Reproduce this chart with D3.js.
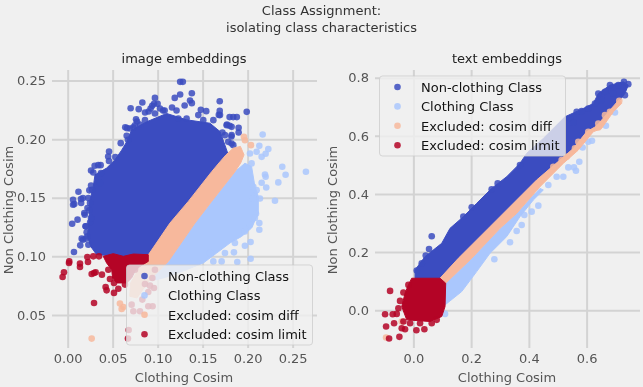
<!DOCTYPE html>
<html>
<head>
<meta charset="utf-8">
<script src="https://cdn.jsdelivr.net/npm/d3@7"></script>
<style>
  html, body { margin: 0; padding: 0; background: #f0f0f0; }
  svg { display: block; font-family: "DejaVu Sans", sans-serif; filter: blur(0.35px); }
</style>
</head>
<body>
<svg id="chart" width="643" height="387"></svg>
<script>
const seriesNames = ["Non-clothing Class", "Clothing Class", "Excluded: cosim diff", "Excluded: cosim limit"];
const seriesColors = ["#3b4cc0", "#aac7fd", "#f7b89c", "#b40426"];

// image embeddings: the solid part of each cloud is an outline, the loose points are single
const imgXTicks = [0, 0.05, 0.10, 0.15, 0.20, 0.25];
const imgYTicks = [0.05, 0.10, 0.15, 0.20, 0.25];
const imgBlueArea = [[.0322,.1014],[.0256,.1085],[.0219,.1170],[.0241,.1341],[.0241,.1455],[.0285,.1597],[.0304,.1696],[.0433,.1753],[.0526,.1824],[.0600,.1906],[.0656,.1977],[.0711,.2077],[.0878,.2148],[.1100,.2219],[.1322,.2165],[.1581,.2136],[.1693,.2065],[.1748,.1949],[.1785,.1866],[.0878,.0986]];
const imgBluePoints = [[.070,.2264],[.079,.2256],[.083,.2313],[.086,.2227],[.090,.2236],[.094,.2284],[.097,.2352],[.096,.2301],[.106,.2244],[.100,.2301],[.125,.2489],[.128,.2489],[.125,.2381],[.119,.2352],[.138,.2392],[.136,.2330],[.138,.2307],[.121,.2244],[.116,.2270],[.130,.2287],[.148,.2250],[.154,.2239],[.169,.2324],[.169,.2241],[.168,.2207],[.199,.2233],[.180,.2188],[.184,.2188],[.188,.2188],[.177,.2125],[.180,.2114],[.190,.2097],[.190,.2057],[.182,.2023],[.172,.2057],[.064,.2102],[.059,.1966],[.067,.1994],[.046,.1895],[.053,.1847],[.045,.1852],[.026,.1733],[.030,.1773],[.034,.1778],[.037,.1710],[.026,.1605],[.027,.1568],[.012,.1551],[.006,.1483],[.006,.1440],[.015,.1455],[.017,.1497],[.005,.1278],[.011,.1313],[.022,.1412],[.019,.1355],[.020,.1256],[.022,.1170],[.014,.1094],[.007,.1037],[.017,.1142],[.025,.1290],[.023,.1497],[.036,.1625],[.076,.2170],[.066,.2094],[.073,.2102],[.077,.2151],
  [.1230,.2176],[.1322,.2176],[.1452,.2205],[.1507,.2162],[.1619,.2162],[.1693,.2205],[.1767,.2119],[.1822,.2105],[.1748,.2034],[.1822,.2034],[.1822,.1963],[.1785,.1977],[.1841,.1949],[.0922,.2261],[.1026,.2261],[.1078,.2244],[.0970,.2219],[.0859,.2162],[.0693,.2091],[.0748,.2119],[.0804,.2125],[.0656,.2028],[.0459,.1813],[.0367,.1778],[.0285,.1716],[.0241,.1563],[.0148,.1489],[.0074,.1446],[.0248,.1455],[.0185,.1369],[.0241,.1392],[.0259,.1327],[.0200,.1256],[.0211,.1205],[.0156,.1151],[.0200,.1151],[.0230,.1099]];
const imgLightArea = [[.1119,.0957],[.1415,.1284],[.1600,.1469],[.1859,.1722],[.1970,.1795],[.2044,.1767],[.2081,.1597],[.2119,.1511],[.2119,.1369],[.2044,.1241],[.1933,.1170],[.1804,.1114],[.1656,.1028],[.1507,.0943],[.1322,.0886],[.110,.0824],[.099,.0801],[.0915,.0801]];
const imgLightPoints = [[.2167,.2040],[.2130,.1943],[.2230,.1915],[.2200,.1875],[.2100,.1892],[.2026,.1878],[.2156,.1849],[.2044,.1793],[.2385,.1764],[.2422,.1696],[.2193,.1699],[.2200,.1679],[.2341,.1631],[.2648,.1722],[.2207,.1588],[.2156,.1628],[.2100,.1565],[.2063,.1594],[.2137,.1494],[.2063,.1494],[.2304,.1474],[.2093,.1364],[.2081,.1327],[.2130,.1284],[.2130,.1227],[.2026,.1270],[.1970,.1213],[.2033,.1122],[.1970,.1091],[.1848,.1034],[.1885,.0952],[.2033,.0980],[.1859,.1114],[.1748,.1028],[.1711,.0957],[.1619,.0957],[.1581,.1028]];
const imgOrangeArea = [[.176,.1866],[.184,.1923],[.192,.1938],[.196,.1866],[.1922,.1795],[.1859,.1722],[.1600,.1469],[.1415,.1284],[.1119,.0957],[.0915,.0801],[.077,.0645],[.069,.0659],[.070,.0773],[.080,.0915],[.088,.0994],[.1137,.1284],[.1341,.1469],[.1600,.1722],[.1693,.1807]];
const imgOrangePoints = [[.1959,.2020],[.1970,.1991],[.2037,.1949],[.0581,.0597],[.0619,.0568],[.0600,.0551],[.0856,.0503],[.0267,.0298]];
const imgRedArea = [[.0396,.1000],[.0507,.1023],[.0619,.1000],[.0730,.1020],[.0896,.1014],[.0896,.0957],[.0804,.0915],[.0748,.0872],[.0711,.0815],[.0656,.0773],[.0544,.0773],[.0500,.0815],[.0489,.0886],[.0433,.0943]];
const imgRedPoints = [[.0015,.0943],[.0018,.0957],[-.0041,.0864],[-.0056,.0824],[.0137,.0938],[.0137,.0909],[.0219,.0994],[.0226,.0952],[.0285,.1000],[.0348,.1000],[.0267,.0849],[.0311,.0864],[.0293,.0858],[.0381,.0844],[.0452,.0886],[.0470,.0807],[.0515,.0773],[.0422,.0739],[.0433,.0710],[.0515,.0688],[.0293,.0602],[.0563,.0724],[.0637,.0759],[.0748,.0886],[.0970,.0886],[.0941,.0815],[.0859,.0764],[.0915,.0750],[.0959,.0730],[.0896,.0696],[.0830,.0631],[.0711,.0588],[.0730,.0531],[.0804,.0531],[.0896,.0574],[.0944,.0574],[.0678,.0372],[.0670,.0298]];

// text embeddings
const txtXTicks = [0, 0.2, 0.4, 0.6];
const txtYTicks = [0, 0.2, 0.4, 0.6, 0.8];
const txtBlueArea = [[.0058,.1100],[.0058,.1386],[.0404,.1844],[.0981,.2302],[.1269,.2818],[.1731,.3219],[.2193,.3677],[.2712,.4192],[.3231,.4593],[.3693,.5052],[.3924,.5395],[.4501,.5911],[.5251,.6655],[.5886,.6942],[.6232,.7113],[.6405,.7457],[.6809,.7743],[.7271,.7858],[.7444,.7743],[.7328,.7457],[.7132,.7205],[.6809,.6884],[.6347,.6312],[.6001,.6140],[.5540,.5567],[.5078,.5166],[.4270,.4479],[.3578,.3792],[.2654,.2875],[.1558,.1787],[.0923,.1100]];
const txtBluePoints = [[.0635,.2543],[.0542,.2108],[.0427,.1879],[.0289,.1615],[.0115,.1363],[.3693,.4994],[.2920,.4364],[.2712,.4158],[.2020,.3540],[.1731,.3219],[.6809,.7743],[.6405,.7457],[.7097,.7743],[.7294,.7858],[.7444,.7778],[.7328,.7400],[.5828,.6850],[.5424,.6598],[.5540,.6449],[.6636,.7514],[.6924,.7457],[.6520,.7228],[.6290,.7113],[.6059,.6942],[.5655,.6827]];
const txtLightArea = [[.1119,.0928],[.2020,.1787],[.3001,.2818],[.3578,.3333],[.4385,.4192],[.4501,.4135],[.4155,.3792],[.3693,.3219],[.3231,.2532],[.2654,.1959],[.2193,.1329],[.1673,.0641],[.1096,.0183],[.0981,.0126]];
const txtLightPoints = [[.3347,.2337],[.2804,.1753],[.3578,.2726],[.3751,.2932],[.3843,.3276],[.4097,.3391],[.4328,.3597],[.4674,.4307],[.5193,.4593],[.4963,.4593],[.5366,.4914],[.5632,.4800],[.5563,.4914],[.5747,.5109],[.5863,.5601],[.6186,.5830],[.6059,.5796],[.6670,.6346],[.6982,.6804],[.1096,-.0126]];
const txtOrangeArea = [[.0923,.1100],[.1558,.1787],[.2654,.2875],[.3578,.3792],[.4270,.4479],[.5078,.5166],[.5540,.5567],[.6001,.6140],[.6347,.6335],[.6809,.6884],[.7132,.7251],[.7213,.7113],[.6924,.6827],[.6520,.6254],[.6232,.6140],[.5713,.5510],[.5193,.5052],[.4385,.4250],[.3578,.3333],[.3001,.2818],[.2020,.1787],[.1119,.0928]];
const txtOrangePoints = [[-.0946,-.0939],[-.0404,-.0389],[.7132,.7205],[.6809,.6827],[.6636,.6712],[.6405,.6426],[.6405,.6289],[.6059,.6140],[.5713,.5796],[.5597,.5567],[.5309,.5281],[.5136,.5166],[.4847,.4937]];
const txtRedArea = [[-.0058,.1100],[.0923,.1100],[.1119,.0928],[.1096,.0126],[.0981,-.0218],[.0577,-.0389],[-.0231,-.0332],[-.0404,.0126],[-.0289,.0584],[-.0173,.0871]];
const txtRedPoints = [[-.0808,.0664],[-.0346,.0607],[-.0462,.0321],[-.0173,.0871],[-.0519,.0069],[-.0981,-.0137],[-.0716,-.0137],[-.0577,-.0126],[-.0669,-.0447],[-.0946,-.0561],[-.0404,-.0619],[-.0289,-.0653],[-.0842,-.0974],[-.0485,-.0916],[.0104,-.0687],[.0381,-.0653],[.0231,-.0447],[.0635,-.0447],[.0808,-.0332],[-.0115,-.0447],[-.0346,-.0389]];

const svg = d3.select("#chart");
const textColor = "#555555";
const fontSize = 13;

svg.append("text").attr("x", 321.5).attr("y", 15).attr("text-anchor", "middle")
  .attr("font-size", fontSize).attr("fill", "#333").text("Class Assignment:");
svg.append("text").attr("x", 321.5).attr("y", 32).attr("text-anchor", "middle")
  .attr("font-size", fontSize).attr("fill", "#333").text("isolating class characteristics");

function panel(opts) {
  const g = svg.append("g").attr("transform", `translate(${opts.left}, 70)`);
  const width = opts.width, height = 278;

  const x = d3.scaleLinear().domain(opts.xDomain).range([0, width]);
  const y = d3.scaleLinear().domain(opts.yDomain).range([height, 0]);

  const xAxis = g.append("g").attr("transform", `translate(0, ${height})`)
    .call(d3.axisBottom(x).tickValues(opts.xTicks).tickFormat(d3.format(opts.fmtX)).tickSize(-height).tickPadding(6));
  const yAxis = g.append("g")
    .call(d3.axisLeft(y).tickValues(opts.yTicks).tickFormat(d3.format(opts.fmtY)).tickSize(-width).tickPadding(6));

  [xAxis, yAxis].forEach((a) => {
    a.select(".domain").remove();
    a.selectAll("line").attr("stroke", "#d3d3d3").attr("stroke-width", 2);
    a.selectAll("text").attr("fill", textColor).attr("font-size", fontSize).attr("font-family", "DejaVu Sans");
  });

  const line = d3.line().x((d) => x(d[0])).y((d) => y(d[1]));
  opts.layers.forEach((layer, i) => {
    g.append("path").attr("d", line(layer.area) + "Z")
      .attr("fill", seriesColors[i]).attr("stroke", seriesColors[i])
      .attr("stroke-width", 1).attr("stroke-linejoin", "round");
    g.append("g").selectAll("circle").data(layer.points).enter().append("circle")
      .attr("cx", (d) => x(d[0])).attr("cy", (d) => y(d[1])).attr("r", 3.3)
      .attr("fill", seriesColors[i]).attr("fill-opacity", 0.85);
  });

  g.append("text").attr("x", width / 2 - 0.5).attr("y", -7).attr("text-anchor", "middle")
    .attr("font-size", fontSize).attr("fill", "#222").text(opts.title);
  g.append("text").attr("x", width / 2 - 0.5).attr("y", 312).attr("text-anchor", "middle")
    .attr("font-size", fontSize).attr("fill", textColor).text("Clothing Cosim");
  g.append("text").attr("transform", `translate(${opts.yLabelX}, 140) rotate(-90)`).attr("text-anchor", "middle")
    .attr("font-size", fontSize).attr("fill", textColor).text("Non Clothing Cosim");

  // legend goes last so it sits over the points
  const lg = svg.append("g").attr("transform", `translate(${opts.legend[0]}, ${opts.legend[1]})`);
  lg.append("rect").attr("width", 186).attr("height", 80).attr("rx", 3)
    .attr("fill", "#f0f0f0").attr("fill-opacity", 0.8).attr("stroke", "#cccccc").attr("stroke-opacity", 0.8);
  seriesNames.forEach((name, i) => {
    lg.append("circle").attr("cx", 18).attr("cy", 11 + i * 19.4).attr("r", 3.3)
      .attr("fill", seriesColors[i]).attr("fill-opacity", 0.85);
    lg.append("text").attr("x", 41.5).attr("y", 16 + i * 19.4)
      .attr("font-size", fontSize).attr("fill", "#111").text(name);
  });
}

panel({
  left: 52, width: 265, title: "image embeddings", yLabelX: -39,
  xDomain: [-0.0174, 0.2771], yDomain: [0.0218, 0.259],
  xTicks: imgXTicks, yTicks: imgYTicks, fmtX: ".2f", fmtY: ".2f", legend: [126.5, 265],
  layers: [
    { area: imgBlueArea, points: imgBluePoints },
    { area: imgLightArea, points: imgLightPoints },
    { area: imgOrangeArea, points: imgOrangePoints },
    { area: imgRedArea, points: imgRedPoints }
  ]
});

panel({
  left: 375, width: 265, title: "text embeddings", yLabelX: -38,
  xDomain: [-0.133, 0.785], yDomain: [-0.13, 0.8265],
  xTicks: txtXTicks, yTicks: txtYTicks, fmtX: ".1f", fmtY: ".1f", legend: [379.5, 76],
  layers: [
    { area: txtBlueArea, points: txtBluePoints },
    { area: txtLightArea, points: txtLightPoints },
    { area: txtOrangeArea, points: txtOrangePoints },
    { area: txtRedArea, points: txtRedPoints }
  ]
});
</script>
</body>
</html>
